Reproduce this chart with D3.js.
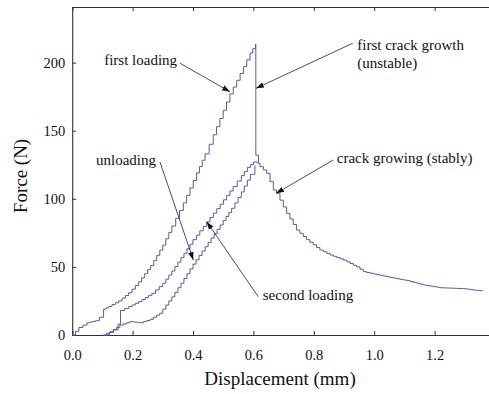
<!DOCTYPE html>
<html>
<head>
<meta charset="utf-8">
<script src="https://cdn.jsdelivr.net/npm/d3@7/dist/d3.min.js"></script>
<style>
  html, body { margin: 0; padding: 0; background: #fff; }
  svg { display: block; }
  text { font-family: "Liberation Serif", "Times New Roman", serif; fill: #111; }
</style>
</head>
<body>
<svg id="chart" width="489" height="394"></svg>
<script>
// ---- data (displacement in mm, force in N) ----
const firstLoadingX = [0, 0.022, 0.049, 0.077, 0.09, 0.104, 0.121, 0.154, 0.187, 0.22, 0.26, 0.30, 0.33, 0.368, 0.39, 0.412, 0.44, 0.467, 0.5, 0.522, 0.556, 0.589, 0.607, 0.608, 0.616, 0.617];
const firstLoadingY = [0, 5.5, 9, 10.5, 13, 19, 21, 25, 31, 39, 51, 66, 80, 97, 108, 119, 133, 147, 165, 177, 192, 207, 213.5, 132, 132, 126];

const unloadingX = [0.103, 0.125, 0.158, 0.191, 0.225, 0.258, 0.29, 0.33, 0.36, 0.4, 0.45, 0.5, 0.528, 0.56, 0.59, 0.605];
const unloadingY = [0, 2.4, 7.3, 9.8, 9, 11.5, 16, 28, 38, 52, 68, 84, 93, 105, 118, 124.5];

const secondLoadingX = [0.11, 0.137, 0.152, 0.16, 0.187, 0.22, 0.264, 0.3, 0.33, 0.37, 0.4, 0.445, 0.49, 0.533, 0.56, 0.58, 0.6, 0.612];
const secondLoadingY = [0, 3.7, 8, 18, 20.8, 24.5, 30.6, 38, 47, 60, 70, 83, 96, 109, 117, 123, 127, 126];

const softeningX = [0.617, 0.622, 0.644, 0.666, 0.677, 0.699, 0.71, 0.743, 0.776, 0.82, 0.854, 0.898, 0.942, 0.964, 0.997, 1.052, 1.108, 1.163, 1.218, 1.295, 1.328, 1.36];
const softeningY = [126, 123.6, 118.7, 106.5, 104, 94, 89.3, 77, 70, 62.4, 58.7, 55, 50, 46.5, 44.8, 42.3, 39.9, 36.7, 34.7, 34, 33, 32.3];

const xTicks = [0, 0.2, 0.4, 0.6, 0.8, 1.0, 1.2];
const yTicks = [0, 50, 100, 150, 200];

// annotations: label lines, text anchor (data units), arrow start and tip (data units)
const annLabels = [["first loading"], ["first crack growth", "(unstable)"], ["crack growing (stably)"], ["unloading"], ["second loading"]];
const annTextX = [0.106, 0.944, 0.876, 0.079, 0.631];
const annTextY = [198.2, 209.3, 126.5, 124.8, 25.7];
const annFromX = [0.357, 0.929, 0.8646, 0.2907, 0.616];
const annFromY = [199.5, 214.2, 128.5, 127, 28.1];
const annToX = [0.5225, 0.6086, 0.675, 0.401, 0.4454];
const annToY = [178.6, 181.1, 104, 55.1, 83.2];

// ---- layout ----
const svg = d3.select("#chart");
const x = d3.scaleLinear().domain([0, 1.4]).range([72.2, 495]);
const y = d3.scaleLinear().domain([0, 240.8]).range([335, 7]);

const lineColor = "#5b5b9c";
const axisColor = "#333";

// staircase rendering style (the recorder's sampling look): each segment is drawn
// as small horizontal/vertical steps about 3.3 px wide
function StairCurve(context) { this._context = context; }
StairCurve.prototype = {
  areaStart() {}, areaEnd() {},
  lineStart() { this._p = null; },
  lineEnd() {},
  point(px, py) {
    px = +px; py = +py;
    if (!this._p) { this._context.moveTo(px, py); this._p = [px, py]; return; }
    const [x0, y0] = this._p;
    const n = Math.max(1, Math.round(Math.abs(px - x0) / 3.3));
    let prevY = y0;
    for (let k = 1; k <= n; k++) {
      const xk = x0 + (px - x0) * k / n;
      const yk = y0 + (py - y0) * k / n;
      this._context.lineTo(xk, prevY);
      this._context.lineTo(xk, yk);
      prevY = yk;
    }
    this._p = [px, py];
  }
};
const curveStair = context => new StairCurve(context);

// arrow marker
svg.append("defs").append("marker")
  .attr("id", "arrow")
  .attr("viewBox", "0 0 10 10")
  .attr("refX", 10).attr("refY", 5)
  .attr("markerWidth", 8).attr("markerHeight", 8)
  .attr("markerUnits", "userSpaceOnUse")
  .attr("orient", "auto")
  .append("path").attr("d", "M0,1.5 L10,5 L0,8.5 Z").attr("fill", "#111");

// axes
const gx = svg.append("g").attr("transform", `translate(0,${y(0)})`)
  .call(d3.axisBottom(x).tickValues(xTicks).tickFormat(d3.format(".1f")).tickSize(-4).tickPadding(15));
const gxTop = svg.append("g").attr("transform", `translate(0,${y.range()[1]})`)
  .call(d3.axisTop(x).tickValues(xTicks).tickFormat("").tickSize(-4));
const gy = svg.append("g").attr("transform", `translate(${x(0)},0)`)
  .call(d3.axisLeft(y).tickValues(yTicks).tickSize(-4).tickPadding(7));

[gx, gxTop, gy].forEach(g => {
  g.selectAll("path.domain").attr("stroke", axisColor).attr("stroke-width", 1.1);
  g.selectAll(".tick line").attr("stroke", axisColor).attr("stroke-width", 1);
  g.selectAll(".tick text").style("font-family", '"Liberation Serif", serif').style("font-size", "14.5px").attr("fill", "#111");
});

// curves
const line = d3.line().x(d => x(d[0])).y(d => y(d[1])).curve(curveStair);
const series = [
  [firstLoadingX, firstLoadingY],
  [unloadingX, unloadingY],
  [secondLoadingX, secondLoadingY],
  [softeningX, softeningY]
];
series.forEach(([xs, ys]) => {
  svg.append("path")
    .datum(xs.map((v, i) => [v, ys[i]]))
    .attr("d", line)
    .attr("fill", "none")
    .attr("stroke", lineColor)
    .attr("stroke-width", 1)
    .attr("stroke-linejoin", "miter");
});

// annotations
annLabels.forEach((lines, i) => {
  const t = svg.append("text")
    .attr("x", x(annTextX[i])).attr("y", y(annTextY[i]))
    .style("font-size", "15px");
  lines.forEach((s, j) => {
    t.append("tspan").attr("x", x(annTextX[i])).attr("dy", j === 0 ? 0 : "1.23em").text(s);
  });
  svg.append("line")
    .attr("x1", x(annFromX[i])).attr("y1", y(annFromY[i]))
    .attr("x2", x(annToX[i])).attr("y2", y(annToY[i]))
    .attr("stroke", "#222").attr("stroke-width", 0.8)
    .attr("marker-end", "url(#arrow)");
});

// axis titles
svg.append("text")
  .attr("x", 280).attr("y", 385)
  .attr("text-anchor", "middle")
  .style("font-size", "19px")
  .text("Displacement (mm)");
svg.append("text")
  .attr("transform", "translate(27,176) rotate(-90)")
  .attr("text-anchor", "middle")
  .style("font-size", "19px")
  .text("Force (N)");
</script>
</body>
</html>
